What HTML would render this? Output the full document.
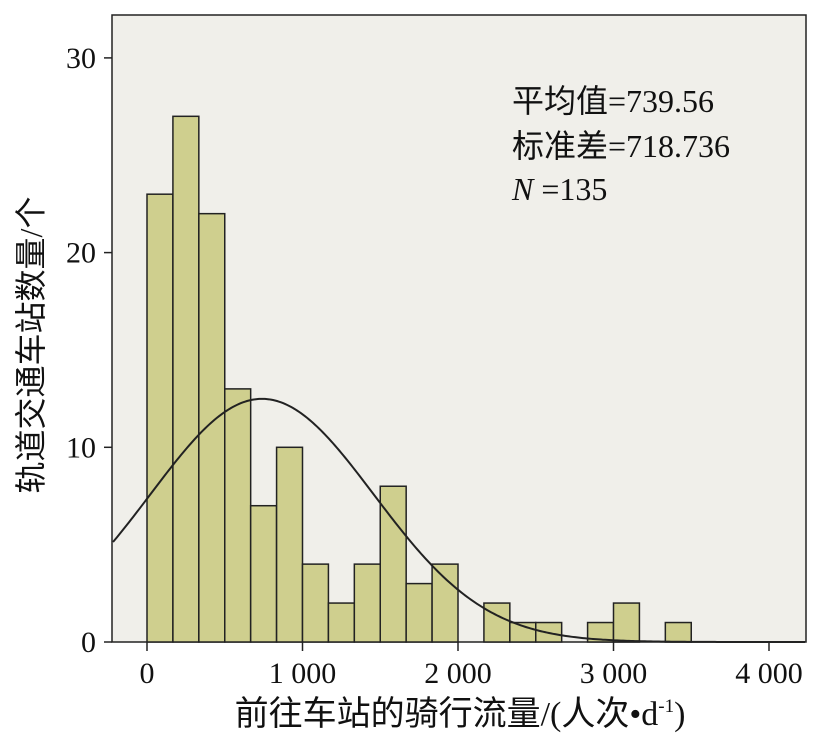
<!DOCTYPE html>
<html><head><meta charset="utf-8"><style>
body{margin:0;background:#fff;}
svg text{font-family:"Liberation Serif","Noto Serif CJK SC",serif;fill:#111;}
</style></head><body>
<svg id="chart" width="827" height="735" xmlns="http://www.w3.org/2000/svg">
<rect x="112" y="15" width="694" height="627" fill="#f0efea" stroke="#222" stroke-width="1.5"/>
<g id="bars"></g>
<path id="curve" fill="none" stroke="#222" stroke-width="2"/>
<g id="axes"></g>
<g font-size="32">
<text x="512" y="112" style="font-family:'Liberation Serif','Noto Sans CJK SC',serif">平均值=739.56</text>
<text x="512" y="157" style="font-family:'Liberation Serif','Noto Sans CJK SC',serif">标准差=718.736</text>
<text x="512" y="200"><tspan font-style="italic">N</tspan> =135</text>
</g>
<text x="460" y="725" text-anchor="middle" font-size="34" style="font-family:'Liberation Serif','Noto Sans CJK SC',serif">前往车站的骑行流量/(人次•d<tspan font-size="19" dy="-13">-1</tspan><tspan dy="13">)</tspan></text>
<text transform="translate(42,345) rotate(-90)" text-anchor="middle" font-size="32" style="font-family:'Liberation Serif','Noto Sans CJK SC',serif">轨道交通车站数量/个</text>
</svg>
<script>
const binStart = 0;
const binWidth = 166.667;
const counts = [23,27,22,13,7,10,4,2,4,8,3,4,0,2,1,1,0,1,2,0,1];
const xTicks = [0,1000,2000,3000,4000];
const xTickLabels = ["0","1 000","2 000","3 000","4 000"];
const yTicks = [0,10,20,30];
const meanVal = 739.56, sdVal = 718.736, nVal = 135;
const X = v => 147 + v * 0.1555;
const Y = v => 642 - v * 19.47;
const NS = "http://www.w3.org/2000/svg";
const bars = document.getElementById('bars');
counts.forEach((c,i)=>{
  if(c<=0) return;
  const r=document.createElementNS(NS,'rect');
  const x0=X(binStart+i*binWidth), x1=X(binStart+(i+1)*binWidth);
  r.setAttribute('x',x0);r.setAttribute('y',Y(c));
  r.setAttribute('width',x1-x0);r.setAttribute('height',Y(0)-Y(c));
  r.setAttribute('fill','#cfcf8e');r.setAttribute('stroke','#222');r.setAttribute('stroke-width','1.5');
  
  
  bars.appendChild(r);
});
let d='';
for(let px=113;px<=805;px+=2){
  const v=(px-147)/0.1555;
  const y=nVal*binWidth/(sdVal*Math.sqrt(2*Math.PI))*Math.exp(-0.5*((v-meanVal)/sdVal)**2);
  d+=(d?'L':'M')+px+','+Y(y).toFixed(2);
}
document.getElementById('curve').setAttribute('d',d);
const axes=document.getElementById('axes');
xTicks.forEach((t,i)=>{
  const l=document.createElementNS(NS,'line');
  l.setAttribute('x1',X(t));l.setAttribute('x2',X(t));l.setAttribute('y1',642);l.setAttribute('y2',651);
  l.setAttribute('stroke','#222');l.setAttribute('stroke-width','1.5');
  
  
  axes.appendChild(l);
  const tx=document.createElementNS(NS,'text');
  tx.setAttribute('x',X(t));tx.setAttribute('y',683);tx.setAttribute('text-anchor','middle');tx.setAttribute('font-size','30');
  tx.textContent=xTickLabels[i];
  
  
  axes.appendChild(tx);
});
yTicks.forEach(t=>{
  const l=document.createElementNS(NS,'line');
  l.setAttribute('x1',104);l.setAttribute('x2',112);l.setAttribute('y1',Y(t));l.setAttribute('y2',Y(t));
  l.setAttribute('stroke','#222');l.setAttribute('stroke-width','1.5');
  
  
  axes.appendChild(l);
  const tx=document.createElementNS(NS,'text');
  tx.setAttribute('x',96);tx.setAttribute('y',Y(t)+10);tx.setAttribute('text-anchor','end');tx.setAttribute('font-size','30');
  tx.textContent=t;
  
  
  axes.appendChild(tx);
});
</script>
</body></html>
